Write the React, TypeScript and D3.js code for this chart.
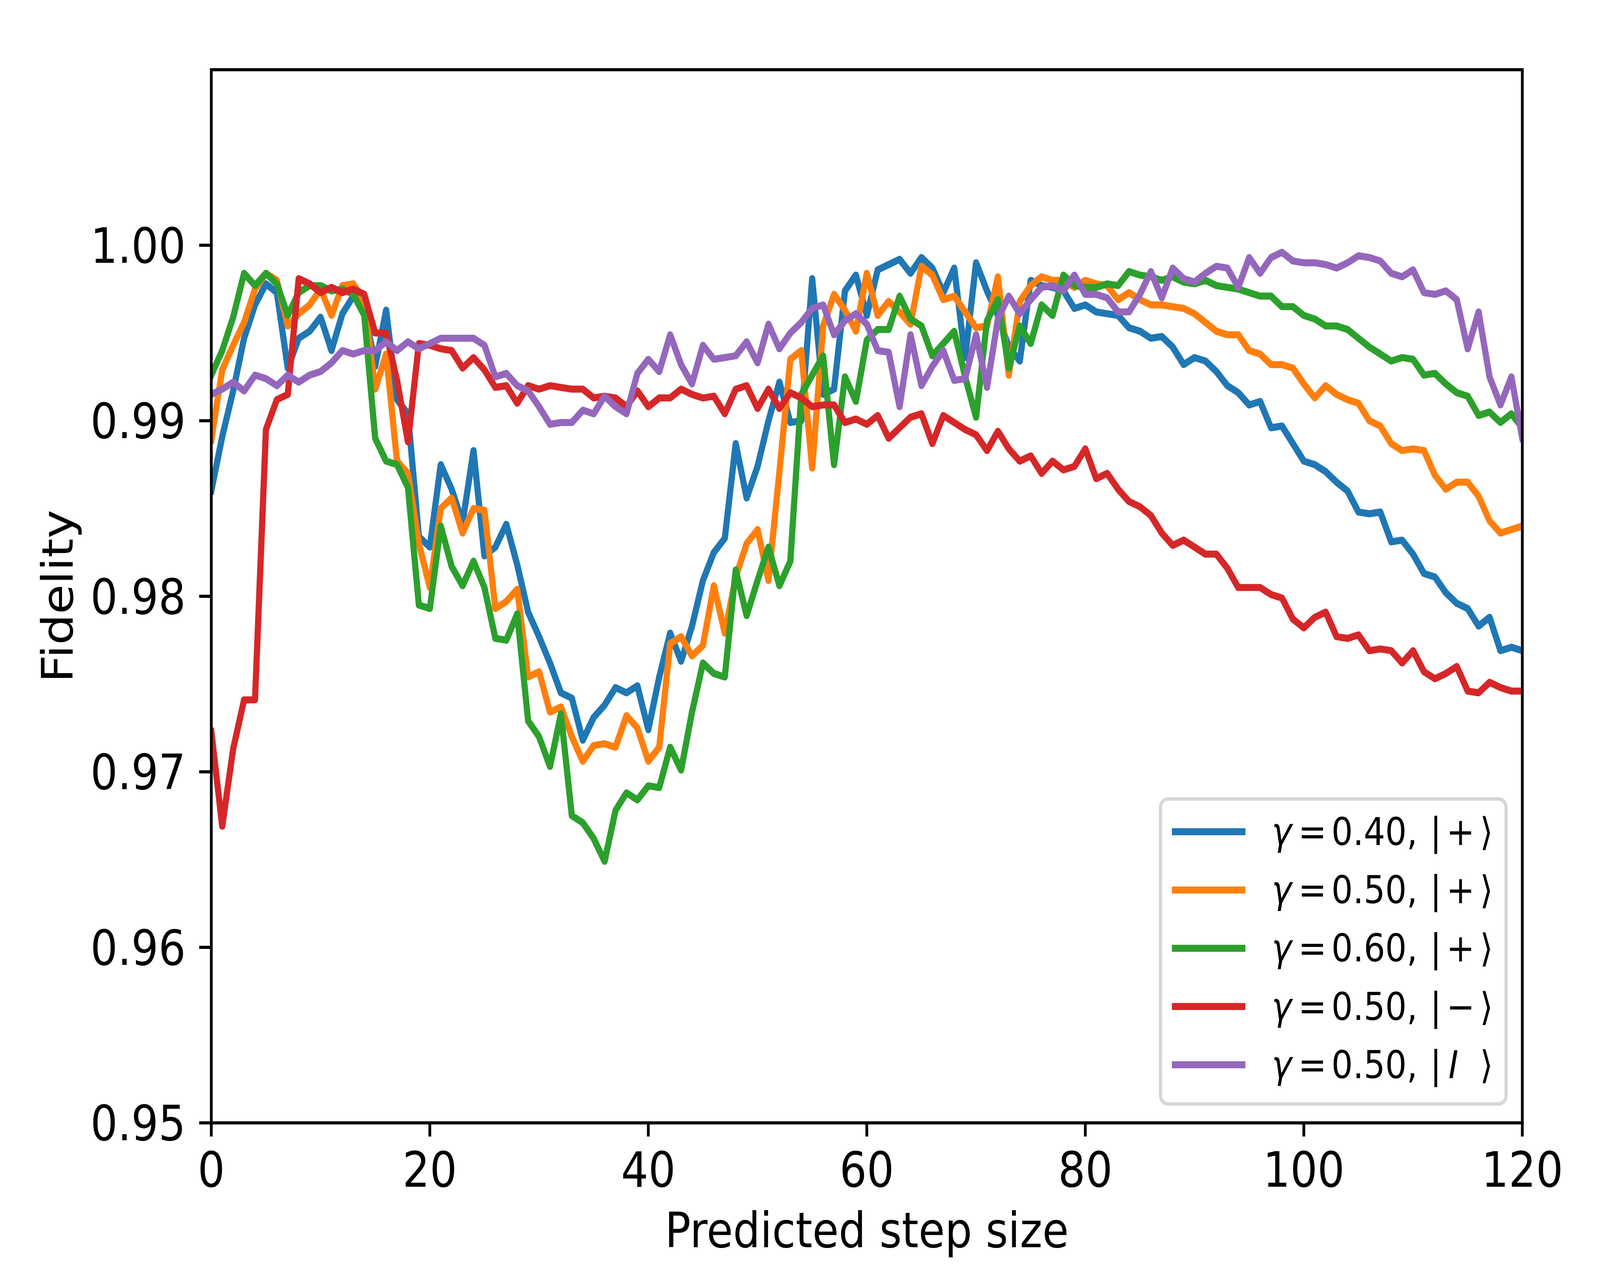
import * as d3 from "d3";

// predicted step size (x)
const STEPS = [
  0, 1, 2, 3, 4, 5, 6, 7, 8, 9, 10, 11, 12, 13, 14, 15, 16, 17, 18, 19, 20,
  21, 22, 23, 24, 25, 26, 27, 28, 29, 30, 31, 32, 33, 34, 35, 36, 37, 38, 39, 40,
  41, 42, 43, 44, 45, 46, 47, 48, 49, 50, 51, 52, 53, 54, 55, 56, 57, 58, 59, 60,
  61, 62, 63, 64, 65, 66, 67, 68, 69, 70, 71, 72, 73, 74, 75, 76, 77, 78, 79, 80,
  81, 82, 83, 84, 85, 86, 87, 88, 89, 90, 91, 92, 93, 94, 95, 96, 97, 98, 99, 100,
  101, 102, 103, 104, 105, 106, 107, 108, 109, 110, 111, 112, 113, 114, 115, 116, 117, 118, 119, 120,
];

// gamma = 0.40, |+>
const FID_040_PLUS = [
  0.9860, 0.9891, 0.9917, 0.9947, 0.9966, 0.9978, 0.9973, 0.9930, 0.9947, 0.9951,
  0.9959, 0.9940, 0.9961, 0.9971, 0.9965, 0.9931, 0.9963, 0.9912, 0.9904, 0.9834,
  0.9828, 0.9875, 0.9861, 0.9842, 0.9883, 0.9823, 0.9828, 0.9841, 0.9818, 0.9791,
  0.9777, 0.9762, 0.9745, 0.9742, 0.9718, 0.9731, 0.9738, 0.9748, 0.9745, 0.9749,
  0.9724, 0.9754, 0.9779, 0.9763, 0.9783, 0.9809, 0.9825, 0.9833, 0.9887, 0.9856,
  0.9874, 0.9900, 0.9922, 0.9899, 0.9900, 0.9981, 0.9915, 0.9918, 0.9974, 0.9983,
  0.9960, 0.9986, 0.9989, 0.9992, 0.9984, 0.9993, 0.9987, 0.9973, 0.9987, 0.9936,
  0.9990, 0.9974, 0.9960, 0.9942, 0.9934, 0.9980, 0.9977, 0.9976, 0.9974, 0.9964,
  0.9966, 0.9962, 0.9961, 0.9960, 0.9953, 0.9951, 0.9947, 0.9948, 0.9942, 0.9932,
  0.9936, 0.9934, 0.9928, 0.9920, 0.9916, 0.9909, 0.9911, 0.9896, 0.9897, 0.9887,
  0.9877, 0.9875, 0.9871, 0.9865, 0.9860, 0.9848, 0.9847, 0.9848, 0.9831, 0.9832,
  0.9824, 0.9813, 0.9811, 0.9802, 0.9796, 0.9793, 0.9783, 0.9788, 0.9769, 0.9771,
  0.9769,
];

// gamma = 0.50, |+>
const FID_050_PLUS = [
  0.9889, 0.9929, 0.9943, 0.9956, 0.9975, 0.9984, 0.9980, 0.9954, 0.9961, 0.9966,
  0.9975, 0.9960, 0.9977, 0.9978, 0.9968, 0.9918, 0.9938, 0.9877, 0.9870, 0.9830,
  0.9805, 0.9850, 0.9856, 0.9836, 0.9850, 0.9849, 0.9793, 0.9797, 0.9804, 0.9754,
  0.9757, 0.9734, 0.9737, 0.9720, 0.9706, 0.9715, 0.9716, 0.9714, 0.9732, 0.9725,
  0.9706, 0.9714, 0.9773, 0.9777, 0.9766, 0.9772, 0.9806, 0.9779, 0.9811, 0.9830,
  0.9838, 0.9809, 0.9871, 0.9935, 0.9940, 0.9873, 0.9954, 0.9972, 0.9963, 0.9951,
  0.9984, 0.9960, 0.9968, 0.9962, 0.9955, 0.9988, 0.9983, 0.9969, 0.9971, 0.9962,
  0.9953, 0.9954, 0.9982, 0.9926, 0.9968, 0.9977, 0.9982, 0.9980, 0.9980, 0.9976,
  0.9980, 0.9978, 0.9977, 0.9969, 0.9973, 0.9969, 0.9966, 0.9966, 0.9965, 0.9964,
  0.9961, 0.9956, 0.9951, 0.9949, 0.9949, 0.9940, 0.9938, 0.9932, 0.9932, 0.9930,
  0.9921, 0.9913, 0.9920, 0.9915, 0.9912, 0.9910, 0.9900, 0.9897, 0.9887, 0.9883,
  0.9884, 0.9883, 0.9869, 0.9861, 0.9865, 0.9865, 0.9857, 0.9843, 0.9836, 0.9838,
  0.9840,
];

// gamma = 0.60, |+>
const FID_060_PLUS = [
  0.9926, 0.9940, 0.9959, 0.9984, 0.9977, 0.9984, 0.9978, 0.9960, 0.9973, 0.9977,
  0.9977, 0.9974, 0.9975, 0.9972, 0.9960, 0.9890, 0.9877, 0.9875, 0.9862, 0.9795,
  0.9793, 0.9840, 0.9817, 0.9806, 0.9820, 0.9805, 0.9776, 0.9775, 0.9790, 0.9729,
  0.9720, 0.9703, 0.9733, 0.9675, 0.9671, 0.9662, 0.9649, 0.9678, 0.9688, 0.9684,
  0.9692, 0.9691, 0.9714, 0.9701, 0.9734, 0.9762, 0.9756, 0.9754, 0.9815, 0.9789,
  0.9809, 0.9828, 0.9806, 0.9820, 0.9915, 0.9926, 0.9937, 0.9875, 0.9925, 0.9911,
  0.9946, 0.9952, 0.9952, 0.9971, 0.9958, 0.9954, 0.9937, 0.9944, 0.9951, 0.9925,
  0.9902, 0.9957, 0.9969, 0.9930, 0.9954, 0.9944, 0.9966, 0.9960, 0.9983, 0.9977,
  0.9976, 0.9976, 0.9978, 0.9977, 0.9985, 0.9983, 0.9982, 0.9980, 0.9982, 0.9979,
  0.9978, 0.9980, 0.9977, 0.9976, 0.9975, 0.9973, 0.9971, 0.9971, 0.9965, 0.9965,
  0.9960, 0.9958, 0.9954, 0.9954, 0.9952, 0.9947, 0.9942, 0.9938, 0.9934, 0.9936,
  0.9935, 0.9926, 0.9927, 0.9921, 0.9916, 0.9914, 0.9903, 0.9905, 0.9899, 0.9904,
  0.9896,
];

// gamma = 0.50, |->
const FID_050_MINUS = [
  0.9723, 0.9669, 0.9713, 0.9741, 0.9741, 0.9895, 0.9912, 0.9915, 0.9981, 0.9978,
  0.9973, 0.9976, 0.9973, 0.9975, 0.9972, 0.9950, 0.9950, 0.9923, 0.9888, 0.9944,
  0.9943, 0.9941, 0.9940, 0.9930, 0.9936, 0.9929, 0.9919, 0.9920, 0.9910, 0.9920,
  0.9918, 0.9920, 0.9919, 0.9918, 0.9918, 0.9913, 0.9914, 0.9913, 0.9908, 0.9917,
  0.9908, 0.9913, 0.9913, 0.9918, 0.9915, 0.9913, 0.9914, 0.9904, 0.9918, 0.9920,
  0.9907, 0.9918, 0.9907, 0.9916, 0.9913, 0.9908, 0.9909, 0.9909, 0.9899, 0.9901,
  0.9898, 0.9903, 0.9890, 0.9896, 0.9902, 0.9904, 0.9887, 0.9903, 0.9899, 0.9895,
  0.9892, 0.9883, 0.9894, 0.9884, 0.9877, 0.9880, 0.9870, 0.9877, 0.9872, 0.9874,
  0.9884, 0.9867, 0.9870, 0.9861, 0.9854, 0.9851, 0.9846, 0.9836, 0.9829, 0.9832,
  0.9828, 0.9824, 0.9824, 0.9816, 0.9805, 0.9805, 0.9805, 0.9801, 0.9799, 0.9787,
  0.9782, 0.9788, 0.9791, 0.9777, 0.9776, 0.9778, 0.9769, 0.9770, 0.9769, 0.9762,
  0.9769, 0.9757, 0.9753, 0.9756, 0.9760, 0.9746, 0.9745, 0.9751, 0.9748, 0.9746,
  0.9746,
];

// gamma = 0.50, |I>
const FID_050_I = [
  0.9915, 0.9918, 0.9922, 0.9917, 0.9926, 0.9924, 0.9920, 0.9926, 0.9922, 0.9926,
  0.9928, 0.9933, 0.9940, 0.9938, 0.9940, 0.9940, 0.9945, 0.9940, 0.9945, 0.9941,
  0.9944, 0.9947, 0.9947, 0.9947, 0.9947, 0.9943, 0.9925, 0.9927, 0.9920, 0.9917,
  0.9908, 0.9898, 0.9899, 0.9899, 0.9906, 0.9904, 0.9914, 0.9908, 0.9904, 0.9927,
  0.9935, 0.9928, 0.9949, 0.9932, 0.9921, 0.9943, 0.9935, 0.9936, 0.9937, 0.9945,
  0.9933, 0.9955, 0.9941, 0.9950, 0.9956, 0.9964, 0.9966, 0.9949, 0.9957, 0.9961,
  0.9955, 0.9940, 0.9939, 0.9908, 0.9949, 0.9920, 0.9931, 0.9940, 0.9923, 0.9924,
  0.9949, 0.9919, 0.9958, 0.9971, 0.9961, 0.9969, 0.9976, 0.9977, 0.9974, 0.9983,
  0.9972, 0.9972, 0.9970, 0.9962, 0.9962, 0.9972, 0.9985, 0.9970, 0.9987, 0.9981,
  0.9979, 0.9984, 0.9988, 0.9987, 0.9976, 0.9993, 0.9984, 0.9993, 0.9996, 0.9991,
  0.9990, 0.9990, 0.9989, 0.9987, 0.9990, 0.9994, 0.9993, 0.9991, 0.9984, 0.9982,
  0.9986, 0.9973, 0.9972, 0.9974, 0.9969, 0.9941, 0.9962, 0.9925, 0.9909, 0.9925,
  0.9890,
];

const X_TICKS = [0, 20, 40, 60, 80, 100, 120];
const Y_TICKS = [0.95, 0.96, 0.97, 0.98, 0.99, 1.0];

const SERIES = [
  { id: "g040p", values: FID_040_PLUS, color: "#1f77b4", gamma: "0.40", ket: "+", italicKet: false },
  { id: "g050p", values: FID_050_PLUS, color: "#ff7f0e", gamma: "0.50", ket: "+", italicKet: false },
  { id: "g060p", values: FID_060_PLUS, color: "#2ca02c", gamma: "0.60", ket: "+", italicKet: false },
  { id: "g050m", values: FID_050_MINUS, color: "#d62728", gamma: "0.50", ket: "\u2212", italicKet: false },
  { id: "g050i", values: FID_050_I, color: "#9467bd", gamma: "0.50", ket: "I", italicKet: true },
];

const W = 4634;
const H = 3260;
const FONT = "'DejaVu Sans', sans-serif";
const LABEL_SIZE = 124;
const LINE_W = 18;

export default function App() {
  const left = 612, right = 4409, top = 178.5, bottom = 2875.5;

  const x = d3.scaleLinear().domain([0, 120]).range([left, right]);
  const y = d3.scaleLinear().domain([0.95, 1.01]).range([bottom, top]);

  const line = d3.line<number>()
    .x((_, i) => x(STEPS[i]))
    .y(d => y(d));

  // legend box
  const lg = { x: 3361, y: 2046, w: 1001, h: 781 };
  const rowY = (i: number) => 2130 + i * 149.2;
  const txt0 = 3683;

  return (
    <svg viewBox={`0 0 ${W} ${H}`} preserveAspectRatio="none"
      style={{ position: "fixed", left: 0, top: 0, width: "100vw", height: "100vh", display: "block", background: "#fff" }}>
      <style>{`body{margin:0}`}</style>
      <defs>
        <clipPath id="plotClip">
          <rect x={left} y={top} width={right - left} height={bottom - top} />
        </clipPath>
      </defs>
      <rect x={0} y={0} width={W} height={H} fill="#fff" />

      {/* series */}
      <g clipPath="url(#plotClip)">
        {SERIES.map(s => (
          <path key={s.id} d={line(s.values) ?? ""} fill="none" stroke={s.color}
            strokeWidth={LINE_W} strokeLinejoin="round" strokeLinecap="square" />
        ))}
      </g>

      {/* x ticks */}
      {X_TICKS.map(t => (
        <g key={`xt${t}`}>
          <line x1={x(t)} x2={x(t)} y1={bottom} y2={bottom + 35} stroke="#000" strokeWidth={8} />
          <text x={x(t)} y={3039} textAnchor="middle" fontFamily={FONT} fontSize={LABEL_SIZE} fill="#000">{t}</text>
        </g>
      ))}

      {/* y ticks */}
      {Y_TICKS.map(t => (
        <g key={`yt${t}`}>
          <line x1={left - 35} x2={left} y1={y(t)} y2={y(t)} stroke="#000" strokeWidth={8} />
          <text x={538} y={y(t) + 45} textAnchor="end" fontFamily={FONT} fontSize={LABEL_SIZE} fill="#000">{t.toFixed(2)}</text>
        </g>
      ))}

      {/* spines */}
      <rect x={left} y={top} width={right - left} height={bottom - top} fill="none" stroke="#000" strokeWidth={8} />

      {/* axis labels */}
      <text x={(left + right) / 2} y={3194} textAnchor="middle" fontFamily={FONT} fontSize={LABEL_SIZE} fill="#000">Predicted step size</text>
      <text transform={`translate(210,${(top + bottom) / 2}) rotate(-90)`} textAnchor="middle" fontFamily={FONT} fontSize={LABEL_SIZE} fill="#000">Fidelity</text>

      {/* legend */}
      <rect x={lg.x} y={lg.y} width={lg.w} height={lg.h} rx={22} fill="#fff" fillOpacity={0.8}
        stroke="#cccccc" strokeOpacity={0.8} strokeWidth={9} />
      {SERIES.map((s, i) => {
        const cy = rowY(i);
        const base = cy + 34;
        return (
          <g key={`lg${s.id}`} fontFamily={FONT} fontSize={98} fill="#000">
            <line x1={3394} x2={3607} y1={cy} y2={cy} stroke={s.color} strokeWidth={LINE_W} />
            <text x={txt0} y={base} fontStyle="italic">γ</text>
            <text x={txt0 + 77} y={base}>=</text>
            <text x={txt0 + 173} y={base}>{`${s.gamma},`}</text>
            <text x={txt0 + 459} y={base}>|</text>
            <text x={s.italicKet ? txt0 + 512 : txt0 + 506} y={base} fontStyle={s.italicKet ? "italic" : "normal"}>{s.ket}</text>
            <text x={txt0 + 603} y={base}>⟩</text>
          </g>
        );
      })}
    </svg>
  );
}
